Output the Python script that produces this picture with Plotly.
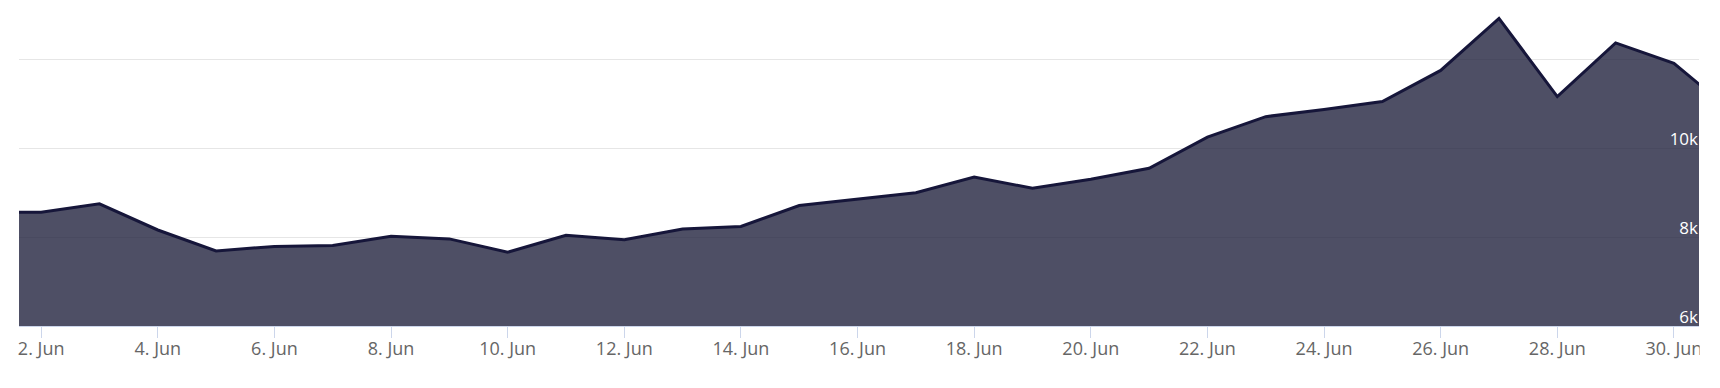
import plotly.graph_objects as go

dates = [
    "2024-06-01", "2024-06-02", "2024-06-03", "2024-06-04", "2024-06-05",
    "2024-06-06", "2024-06-07", "2024-06-08", "2024-06-09", "2024-06-10",
    "2024-06-11", "2024-06-12", "2024-06-13", "2024-06-14", "2024-06-15",
    "2024-06-16", "2024-06-17", "2024-06-18", "2024-06-19", "2024-06-20",
    "2024-06-21", "2024-06-22", "2024-06-23", "2024-06-24", "2024-06-25",
    "2024-06-26", "2024-06-27", "2024-06-28", "2024-06-29", "2024-06-30",
    "2024-07-01",
]
values = [
    8560, 8560, 8750, 8160, 7690,
    7790, 7810, 8020, 7960, 7660,
    8040, 7940, 8180, 8240, 8710,
    8860, 9000, 9350, 9100, 9300,
    9550, 10250, 10710, 10870, 11050,
    11750, 12920, 11160, 12370, 11910,
    10820,
]
y_ticks = [6000, 8000, 10000, 12000]
y_labels = ["6k", "8k", "10k", "12k"]
y_range = [6000, 13154]
x_range = ["2024-06-01 14:53", "2024-06-30 10:19"]

fig = go.Figure()
fig.add_trace(go.Scatter(
    x=dates, y=values, mode="lines",
    line=dict(color="#16163a", width=3),
    fill="tozeroy", fillcolor="rgba(28,29,58,0.78)",
    hoverinfo="skip",
))
# invisible trace to activate the label axes
fig.add_trace(go.Scatter(x=[dates[1]], y=[y_range[0]], xaxis="x2", yaxis="y2",
                         mode="none", hoverinfo="skip", showlegend=False))

# page has an 8px body margin: plot area placed at page x 19..1699, y 8..326
fig.update_layout(
    width=1720, height=388,
    margin=dict(l=11, r=29, t=0, b=70),
    paper_bgcolor="white", plot_bgcolor="white",
    showlegend=False,
    font=dict(family="Open Sans, Noto Sans, sans-serif", size=17, color="#666666"),
    xaxis=dict(
        type="date",
        range=x_range,
        tick0="2024-06-02", dtick=2 * 86400000,
        tickformat="%-d. %b",
        showgrid=False, zeroline=False,
        showline=True, linecolor="#ccd6eb", linewidth=1,
        ticks="outside", ticklen=11, tickcolor="#ccd6eb", tickwidth=1,
        tickfont=dict(size=18, color="#666666"),
        ticklabelstandoff=-5,
        ticklabeloverflow="allow",
        automargin=False,
    ),
    xaxis2=dict(
        type="date", overlaying="x", anchor="y2", side="top",
        range=x_range, showticklabels=False, ticks="",
        showgrid=False, zeroline=False, showline=False,
        automargin=False,
    ),
    # gridlines only
    yaxis=dict(
        range=y_range,
        tickvals=y_ticks, showticklabels=False, ticks="",
        showgrid=True, gridcolor="#e6e6e6", gridwidth=1,
        zeroline=False, showline=False,
        automargin=False,
    ),
    # labels only, drawn inside the plot on the right
    yaxis2=dict(
        overlaying="y", anchor="x2", side="right",
        range=y_range,
        tickvals=y_ticks, ticktext=y_labels,
        ticklabelposition="inside top",
        ticklabeloverflow="allow",
        ticks="",
        ticklabelstandoff=-2,
        ticklabelshift=3,
        showgrid=False, zeroline=False, showline=False,
        tickfont=dict(size=17, color="white"),
        automargin=False,
    ),
)
# chart container is clipped at the plot's right edge: blank strip to the right
fig.add_shape(type="rect", xref="paper", yref="paper",
              x0=1.0004, x1=1.03, y0=-0.25, y1=1.05,
              fillcolor="white", line=dict(width=0), layer="above")

fig.write_html("out.html")
